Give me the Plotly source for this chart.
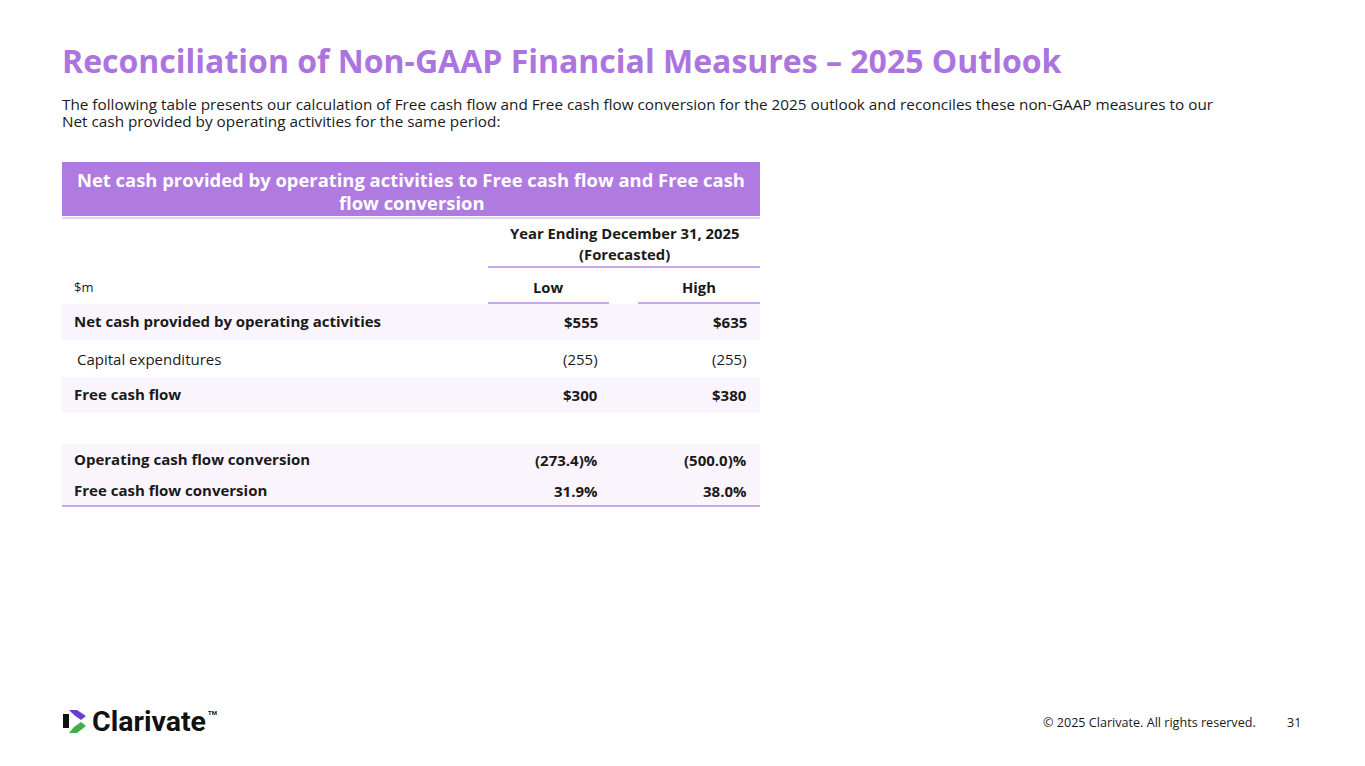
import plotly.graph_objects as go

# slide text
title = "Reconciliation of Non-GAAP Financial Measures \u2013 2025 Outlook"
intro = ["The following table presents our calculation of Free cash flow and Free cash flow conversion for the 2025 outlook and reconciles these non-GAAP measures to our",
         "Net cash provided by operating activities for the same period:"]
table_title = ["Net cash provided by operating activities to Free cash flow and Free cash", "flow conversion"]
period = ["Year Ending December 31, 2025", "(Forecasted)"]
unit_label = "$m"
columns = ["Low", "High"]

# table rows
row_labels = ["Net cash provided by operating activities", "Capital expenditures", "Free cash flow",
              "Operating cash flow conversion", "Free cash flow conversion"]
low = [555, -255, 300, -273.4, 31.9]
high = [635, -255, 380, -500.0, 38.0]
kinds = ["$", "n", "$", "%", "%"]

footer = "\u00a9 2025 Clarivate. All rights reserved."
page = "31"

# styling
PURPLE = "#ac74de"
BAND = "#b07be0"
LINE = "#b98ae3"
SHADE = "#faf5fd"
TXT = "#1a1a1a"
FONT = "Open Sans"
bold_rows = [True, False, True, True, True]
shaded_rows = [True, False, True, True, True]


def fmt(v, k):
    if k == "$":
        return f"${v:,.0f}" if v >= 0 else f"(${abs(v):,.0f})"
    if k == "%":
        return f"{v:.1f}%" if v >= 0 else f"({abs(v):.1f})%"
    return f"{v:,.0f}" if v >= 0 else f"({abs(v):,.0f})"


fig = go.Figure()
shapes = []
ann = []


def text(x, y, s, size, color=TXT, bold=False, anchor="left"):
    ann.append(dict(x=x, y=y, text=f"<b>{s}</b>" if bold else s, showarrow=False,
                    xanchor=anchor, yanchor="middle",
                    font=dict(family=FONT, size=size, color=color)))


def hline(x0, x1, y, color=LINE, w=1.5):
    shapes.append(dict(type="line", x0=x0, x1=x1, y0=y, y1=y, line=dict(color=color, width=w)))


# title and intro
text(60, 60, title, 32, PURPLE, bold=True)
for i, s in enumerate(intro):
    text(60, 104 + i * 17, s, 15.3, TXT)

# table header band
tl, tr = 62, 760
shapes.append(dict(type="rect", x0=tl, x1=tr, y0=162, y1=216, fillcolor=BAND, line_width=0, layer="below"))
hline(tl, tr, 218, "#dcc6f2", 1.5)
for i, s in enumerate(table_title):
    text((tl + tr) / 2, 179 + i * 23, s, 18.4, "white", bold=True, anchor="center")

# period header
c_low_l, c_low_r = 488, 609
c_high_l, c_high_r = 638, 760
for i, s in enumerate(period):
    text((c_low_l + tr) / 2, 233 + i * 21, s, 14.8, TXT, bold=True, anchor="center")
hline(c_low_l, tr, 267)
text(72, 287, unit_label, 13, TXT)
text((c_low_l + c_low_r) / 2, 287, columns[0], 14.8, TXT, bold=True, anchor="center")
text((c_high_l + c_high_r) / 2, 287, columns[1], 14.8, TXT, bold=True, anchor="center")
hline(c_low_l, c_low_r, 303)
hline(c_high_l, c_high_r, 303)

# body rows: (top, bottom) for each row, gap before the conversion rows
row_tops = [304, 340, 377, 444, 476]
row_bots = [340, 377, 413, 476, 505]
for i, lab in enumerate(row_labels):
    y0, y1 = row_tops[i], row_bots[i]
    yc = (y0 + y1) / 2
    if shaded_rows[i]:
        shapes.append(dict(type="rect", x0=tl, x1=tr, y0=y0, y1=y1, fillcolor=SHADE, line_width=0, layer="below"))
    b = bold_rows[i]
    text(72 if b else 75, yc - (1 if i != 1 else 0), lab, 15, TXT, bold=b)
    text(600, yc, fmt(low[i], kinds[i]), 15, TXT, bold=b, anchor="right")
    text(749, yc, fmt(high[i], kinds[i]), 15, TXT, bold=b, anchor="right")
hline(tl, tr, 506)

# footer
text(1258, 722, footer, 12.6, TXT, anchor="right")
text(1303, 722, page, 12.6, TXT, anchor="right")

# logo mark
shapes.append(dict(type="path", path="M 69 710 L 77 710 L 86 716 L 81 720 L 74 715 Z", fillcolor="#6b3fc9", line_width=0))
shapes.append(dict(type="path", path="M 63 714 L 69 714 L 69 728 L 63 728 Z", fillcolor="#111111", line_width=0))
shapes.append(dict(type="path", path="M 74 727 L 81 722 L 86 726 L 77 733 L 69 733 Z", fillcolor="#3fae49", line_width=0))
ann.append(dict(x=90, y=721, text="<b>Clarivate</b>", showarrow=False, xanchor="left", yanchor="middle",
                font=dict(family="Roboto", size=28.5, color="#111111")))
ann.append(dict(x=206, y=712, text="<b>TM</b>", showarrow=False, xanchor="left", yanchor="middle",
                font=dict(family="Roboto", size=6, color="#111111")))

# the page body has an 8px margin, so the axes start at 8 to keep slide pixel coordinates
fig.update_layout(
    width=1357, height=758, margin=dict(l=0, r=0, t=0, b=0),
    paper_bgcolor="white", plot_bgcolor="white", showlegend=False,
    xaxis=dict(range=[8, 1365], visible=False, fixedrange=True),
    yaxis=dict(range=[766, 8], visible=False, fixedrange=True),
    shapes=shapes, annotations=ann,
)

fig.write_html("out.html")
